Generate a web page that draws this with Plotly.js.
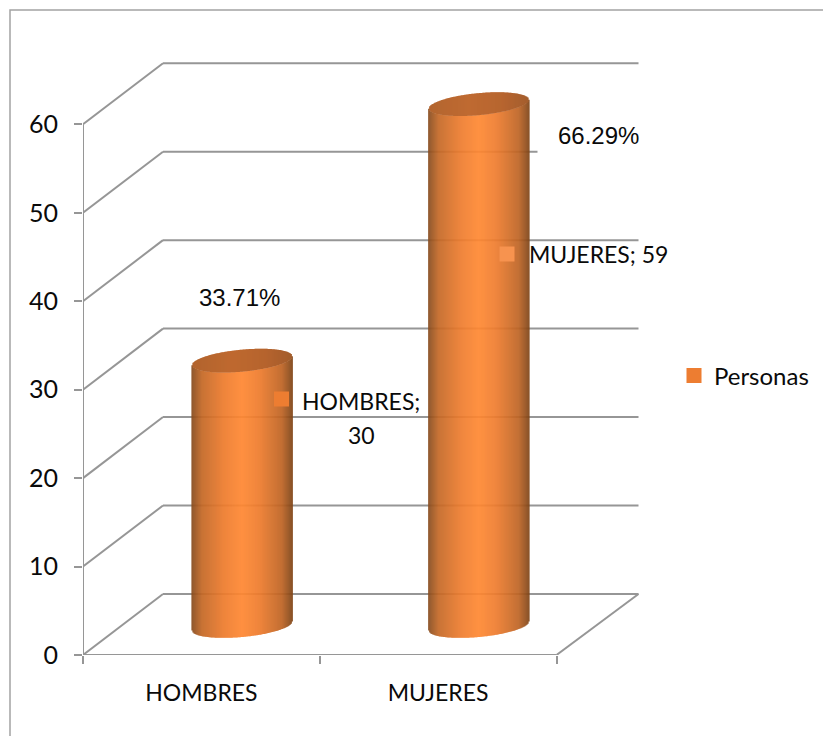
<!DOCTYPE html>
<html>
<head>
<meta charset="utf-8">
<script src="https://cdn.plot.ly/plotly-3.0.1.min.js"></script>
<style>html,body{margin:0;padding:0;background:#fff;overflow:hidden}#c{width:823px;height:736px}</style>
</head>
<body>
<div id="c"></div>
<script>
var categories = ['HOMBRES', 'MUJERES'];
var values = [30, 59];
var percentLabels = ['33.71%', '66.29%'];
var yTicks = [0, 10, 20, 30, 40, 50, 60];
var seriesName = 'Personas';

var W = 823, H = 736;
var plotL = 83, plotR = 660, plotT = 40, plotB = 655;
var pxPerCat = 236.75, pxPerVal = 8.845;
var xMin = -0.5, xMax = xMin + (plotR - plotL) / pxPerCat;
var yMax = (plotB - plotT) / pxPerVal;
function X(px) { return xMin + (px - plotL) / pxPerCat; }
function Y(py) { return (plotB - py) / pxPerVal; }
function PX(px) { return (px - plotL) / (plotR - plotL); }
function PY(py) { return (plotB - py) / (plotB - plotT); }

var depthX = 80 / pxPerCat, depthY = 6.9;
var backX = X(638.5);
var gridColor = '#969696';
var shapes = [];
function seg(x0, y0, x1, y1, w) {
  shapes.push({type: 'line', layer: 'below', xref: 'x', yref: 'y', x0: x0, y0: y0, x1: x1, y1: y1,
    line: {color: gridColor, width: w || 2}});
}
yTicks.forEach(function (v) {
  seg(xMin, v, xMin + depthX, v + depthY);
  seg(xMin + depthX, v + depthY, backX, v + depthY);
});
seg(xMin, 0, xMin, 60);
seg(xMin, 0, 1.5, 0);
seg(1.5, 0, backX, depthY);
shapes.push({type: 'rect', layer: 'below', xref: 'paper', yref: 'paper',
  x0: PX(10), y0: PY(745), x1: PX(835), y1: PY(10),
  line: {color: '#a3a3a3', width: 1.5}, fillcolor: 'rgba(0,0,0,0)'});

var shiftX = 0.1722, halfW = 50 / pxPerCat, floorY = 3.28;
var tilt = 4.5 / pxPerVal, semi = 11 / pxPerVal;
var slices = 100;

var stops = [[-1, [136, 76, 30]], [-0.8, [196, 104, 38]], [-0.35, [238, 124, 46]], [0, [255, 136, 50]],
             [0.35, [238, 124, 46]], [0.8, [190, 100, 36]], [1, [130, 70, 24]]];
var topStops = [[-1, [172, 88, 30]], [-0.2, [186, 94, 32]], [0.5, [176, 88, 30]], [1, [156, 80, 28]]];
function ramp(s, t) {
  for (var i = 1; i < s.length; i++) {
    if (t <= s[i][0]) {
      var f = (t - s[i - 1][0]) / (s[i][0] - s[i - 1][0]);
      var c = s[i - 1][1].map(function (a, k) { return Math.round(a + (s[i][1][k] - a) * f); });
      return 'rgb(' + c.join(',') + ')';
    }
  }
  return 'rgb(' + s[s.length - 1][1].join(',') + ')';
}

var bodyX = [], bodyBase = [], bodyH = [], bodyC = [];
var capX = [], capBase = [], capH = [], capC = [];
values.forEach(function (v, i) {
  for (var k = 0; k <= slices; k++) {
    var t = -1 + 2 * k / slices;
    var cx = i + shiftX + t * halfW;
    var r = semi * Math.sqrt(Math.max(0, 1 - t * t));
    var lowBottom = floorY + tilt * t - r;
    var lowTop = floorY + v + tilt * t - r;
    var upTop = floorY + v + tilt * t + r;
    bodyX.push(cx); bodyBase.push(lowBottom); bodyH.push(lowTop - lowBottom); bodyC.push(ramp(stops, t));
    capX.push(cx); capBase.push(lowTop); capH.push(upTop - lowTop); capC.push(ramp(topStops, t));
  }
});
var sliceW = 1.4 / pxPerCat;

var traces = [
  {type: 'bar', x: bodyX, y: bodyH, base: bodyBase, width: sliceW, marker: {color: bodyC, line: {width: 0}},
   showlegend: false, hoverinfo: 'skip'},
  {type: 'bar', x: capX, y: capH, base: capBase, width: sliceW, marker: {color: capC, line: {width: 0}},
   showlegend: false, hoverinfo: 'skip'},
  {type: 'scatter', mode: 'markers', name: seriesName,
   x: [X(281.5), X(507)], y: [Y(399), Y(254)],
   marker: {symbol: 'square', size: 15, color: ['#ED7D31', '#F7934F'], line: {width: 0}},
   hoverinfo: 'skip'}
];

var txt = {family: 'Lato, Carlito, sans-serif', size: 23, color: '#0a0a0a'};
var tickY = {family: 'Lato, Carlito, sans-serif', size: 25, color: '#0a0a0a'};
var legendFont = {family: 'Lato, Carlito, sans-serif', size: 24, color: '#0a0a0a'};
var arial = {family: '"Liberation Sans", Arial, sans-serif', size: 24, color: '#0a0a0a'};
function note(text, px, py, font) {
  return {text: text, x: X(px), y: Y(py), xref: 'x', yref: 'y', showarrow: false, font: font,
          xanchor: 'center', yanchor: 'middle', align: 'center'};
}
var annotations = [
  note(percentLabels[0], 239.5, 297, arial),
  {text: ' ', x: X(590), y: Y(136), xref: 'x', yref: 'y', showarrow: false, xanchor: 'center', yanchor: 'middle',
   width: 102, height: 34, bgcolor: '#fff', font: arial},
  note(percentLabels[1], 598, 135, arial),
  note(categories[0] + ';', 361, 401, txt),
  note(String(values[0]), 361, 435, txt),
  note(categories[1] + '; ' + values[1], 598.5, 254, txt)
];

var layout = {
  width: W, height: H,
  margin: {l: plotL, r: W - plotR, t: plotT, b: H - plotB, pad: 0, autoexpand: false},
  paper_bgcolor: '#fff', plot_bgcolor: 'rgba(0,0,0,0)',
  barmode: 'overlay',
  xaxis: {type: 'linear', range: [xMin, xMax], tickmode: 'array', tickvals: [0, 1], ticktext: categories,
          showgrid: false, zeroline: false, showline: false, ticks: 'outside', ticklen: 0, tickcolor: 'rgba(0,0,0,0)',
          tickfont: txt, ticklabelstandoff: 17,
          minor: {tickmode: 'array', tickvals: [-0.5, 0.5, 1.5], ticks: 'outside', ticklen: 8, tickwidth: 2, tickcolor: gridColor, showgrid: false}},
  yaxis: {range: [0, yMax], tickmode: 'array', tickvals: yTicks, showgrid: false, zeroline: false, showline: false,
          ticks: 'outside', ticklen: 8, tickwidth: 2, tickcolor: gridColor, tickfont: tickY, ticklabelstandoff: 11},
  showlegend: true,
  legend: {x: PX(674), xanchor: 'left', y: PY(376), yanchor: 'middle', font: legendFont, bgcolor: 'rgba(0,0,0,0)', itemclick: false, itemdoubleclick: false},
  shapes: shapes,
  annotations: annotations
};
Plotly.newPlot('c', traces, layout, {staticPlot: true, displayModeBar: false});
</script>
</body>
</html>
